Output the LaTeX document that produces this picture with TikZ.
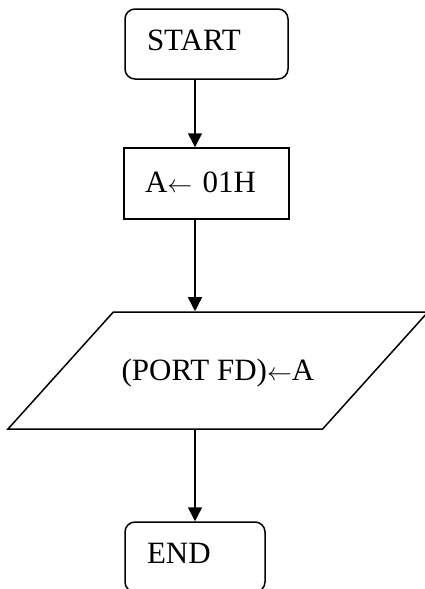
\documentclass[tikz,border=0pt]{standalone}
\usepackage{fontspec}
\setmainfont{Liberation Serif}
\usetikzlibrary{arrows.meta,positioning,shapes.geometric}
\definecolor{ink}{HTML}{000000}

\begin{document}
\begin{tikzpicture}[
  x=1pt, y=-1pt,
  >={Triangle[length=14pt,width=14pt]},
  every node/.style={font=\fontsize{31}{36}\selectfont, text=ink},
  term/.style={draw=ink, line width=1.5pt, rounded corners=10pt, align=left,
    minimum height=70pt, inner ysep=0pt, text depth=8pt},
  proc/.style={draw=ink, line width=1.5pt, align=left,
    minimum height=71pt, inner ysep=0pt, text depth=3pt},
  io/.style={draw=ink, line width=1.5pt, trapezium, trapezium left angle=48,
    trapezium right angle=132, trapezium stretches body=true,
    text height=68.25pt, text depth=48.75pt,
    minimum width=420pt, inner sep=0pt},
  flow/.style={->, draw=ink, line width=1.5pt},
]

\useasboundingbox (0,0) rectangle (425,589);
\clip (0,0) rectangle (425,589);

\coordinate (spine) at (195,0);

\node[term, text width=119pt, inner xsep=22pt] (start) at (206.5,44) {START};
\node[proc, text width=123pt, inner xsep=21pt] (assign) at (206.5,183.5) {A$\leftarrow$ 01H};
\node[io] (port) at (218,370.5) {(PORT FD)$\leftarrow$A};
\node[term, text width=96pt, inner xsep=22pt] (stop) at (195,557) {END};

\draw[flow] (start.south -| spine) -- (assign.north -| spine);
\draw[flow] (assign.south -| spine) -- (port.north -| spine);
\draw[flow] (port.south -| spine) -- (stop.north -| spine);

\end{tikzpicture}
\end{document}
